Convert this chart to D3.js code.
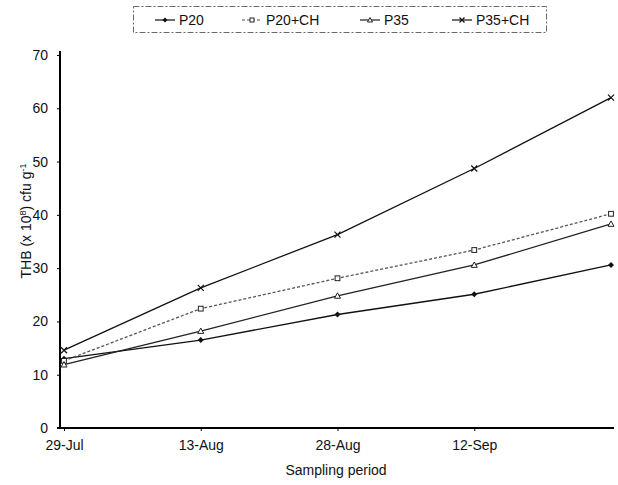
<!DOCTYPE html>
<html>
<head>
<meta charset="utf-8">
<script src="https://cdn.jsdelivr.net/npm/d3@7"></script>
<style>
  body { margin: 0; background: #fff; }
  text { font-family: "Liberation Sans", Arial, sans-serif; fill: #111; }
</style>
</head>
<body>
<div id="chart-area"></div>
<script>
// data
var dates = ["29-Jul", "13-Aug", "28-Aug", "12-Sep", "27-Sep"];
var dateLabels = ["29-Jul", "13-Aug", "28-Aug", "12-Sep"];
var p20 = [13.0, 16.5, 21.3, 25.1, 30.6];
var p20ch = [12.6, 22.4, 28.1, 33.4, 40.2];
var p35 = [11.9, 18.2, 24.8, 30.6, 38.3];
var p35ch = [14.6, 26.3, 36.3, 48.7, 62.0];
var yTicks = [0, 10, 20, 30, 40, 50, 60, 70];

var series = [
    { name: "P20", values: p20, marker: "diamond", dash: null, color: "#111" },
    { name: "P20+CH", values: p20ch, marker: "square", dash: "3,2", color: "#555" },
    { name: "P35", values: p35, marker: "triangle", dash: null, color: "#222" },
    { name: "P35+CH", values: p35ch, marker: "cross", dash: null, color: "#111" }
];

var W = 618, H = 485;
var svg = d3.select("#chart-area")
    .append("svg")
        .attr("width", W)
        .attr("height", H);

// Scales
var x = d3.scalePoint()
    .domain(dates)
    .range([64, 611]);
var y = d3.scaleLinear()
    .domain([0, 70])
    .range([428, 55]);

// Axes
var yAxisCall = d3.axisLeft(y)
    .tickValues(yTicks)
    .tickSize(3)
    .tickPadding(9);
var yAxis = svg.append("g")
    .attr("transform", "translate(60,0)")
    .call(yAxisCall);
yAxis.select(".domain").attr("stroke-width", 2).attr("d", "M-3," + y(0) + "H0V" + (y(70) - 4));
yAxis.selectAll("text").attr("font-size", "14px");

var xAxisCall = d3.axisBottom(x)
    .tickValues(dateLabels)
    .tickSize(3)
    .tickPadding(9);
var xAxis = svg.append("g")
    .attr("transform", "translate(0," + y(0) + ")")
    .call(xAxisCall);
xAxis.select(".domain").attr("stroke-width", 2).attr("d", "M60,0H614");
xAxis.selectAll("text").attr("font-size", "14px");

// Labels
svg.append("text")
    .attr("x", 336)
    .attr("y", 475)
    .attr("font-size", "14px")
    .attr("text-anchor", "middle")
    .text("Sampling period");

var yLabel = svg.append("text")
    .attr("transform", "translate(31,221) rotate(-90)")
    .attr("font-size", "14px")
    .attr("text-anchor", "middle");
yLabel.append("tspan").text("THB (x 10");
yLabel.append("tspan").attr("font-size", "9px").attr("dy", -5).text("8");
yLabel.append("tspan").attr("dy", 5).text(") cfu g");
yLabel.append("tspan").attr("font-size", "9px").attr("dy", -5).text("-1");

// Markers
function drawMarker(sel, type, size) {
    var s = size;
    if (type === "diamond") {
        sel.append("path")
            .attr("d", "M0," + (-s) + "L" + s + ",0L0," + s + "L" + (-s) + ",0Z")
            .attr("fill", "#111");
    } else if (type === "square") {
        sel.append("rect")
            .attr("x", -s * 0.8).attr("y", -s * 0.8)
            .attr("width", s * 1.6).attr("height", s * 1.6)
            .attr("fill", "#fff").attr("stroke", "#222").attr("stroke-width", 1);
    } else if (type === "triangle") {
        sel.append("path")
            .attr("d", "M0," + (-s) + "L" + s + "," + (s * 0.8) + "L" + (-s) + "," + (s * 0.8) + "Z")
            .attr("fill", "#fff").attr("stroke", "#222").attr("stroke-width", 1);
    } else {
        sel.append("path")
            .attr("d", "M" + (-s) + "," + (-s) + "L" + s + "," + s + "M" + s + "," + (-s) + "L" + (-s) + "," + s)
            .attr("fill", "none").attr("stroke", "#111").attr("stroke-width", 1.2);
    }
}

// Lines
var line = d3.line()
    .x(function(d, i){ return x(dates[i]); })
    .y(function(d){ return y(d); });

series.forEach(function(s){
    svg.append("path")
        .datum(s.values)
        .attr("d", line)
        .attr("fill", "none")
        .attr("stroke", s.color)
        .attr("stroke-width", 1.3)
        .attr("stroke-dasharray", s.dash);

    s.values.forEach(function(v, i){
        var m = svg.append("g")
            .attr("transform", "translate(" + x(dates[i]) + "," + y(v) + ")");
        drawMarker(m, s.marker, 3);
    });
});

// Legend
svg.append("rect")
    .attr("x", 133.5)
    .attr("y", 6.5)
    .attr("width", 413)
    .attr("height", 26)
    .attr("fill", "none")
    .attr("stroke", "#444")
    .attr("stroke-width", 0.8)
    .attr("stroke-dasharray", "6,2,2,2");

var legendX = [155, 242, 360, 452];
series.forEach(function(s, i){
    var row = svg.append("g")
        .attr("transform", "translate(" + legendX[i] + ",20)");
    row.append("line")
        .attr("x1", 0).attr("x2", 20)
        .attr("stroke", s.color)
        .attr("stroke-width", 1.2)
        .attr("stroke-dasharray", s.dash);
    var m = row.append("g").attr("transform", "translate(10,0)");
    drawMarker(m, s.marker, 2.5);
    row.append("text")
        .attr("x", 24)
        .attr("y", 5)
        .attr("font-size", "14px")
        .text(s.name);
});
</script>
</body>
</html>
